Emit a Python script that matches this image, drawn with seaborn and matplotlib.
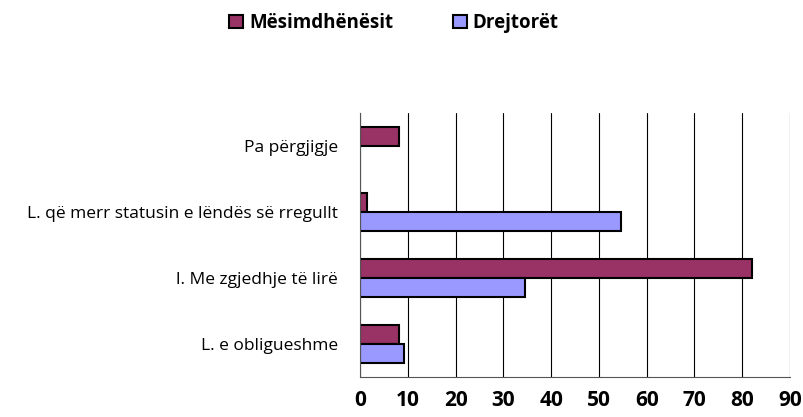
import numpy as np
import pandas as pd
import matplotlib.pyplot as plt
import seaborn as sns
from matplotlib.patches import Patch

# categories, top to bottom as shown
categories = ["Pa përgjigje",
              "L. që merr statusin e lëndës së rregullt",
              "l. Me zgjedhje të lirë",
              "L. e obligueshme"]
series = ["Mësimdhënësit", "Drejtorët"]
mesimdhenesit = [8.2, 1.4, 82.1, 8.2]
drejtoret = [None, 54.6, 34.6, 9.1]
colors = ["#993366", "#9999FF"]

df = pd.DataFrame({
    "cat": categories * 2,
    "group": [series[0]] * 4 + [series[1]] * 4,
    "value": mesimdhenesit + drejtoret,
}).dropna()

sns.set_style("white")
plt.rcParams["font.family"] = ["Open Sans", "DejaVu Sans"]
plt.rcParams["text.color"] = "black"
plt.rcParams["xtick.labelcolor"] = "black"
plt.rcParams["ytick.labelcolor"] = "black"

fig = plt.figure(figsize=(8.04, 4.17), dpi=100)
ax = fig.add_axes([0.4478, 0.0959, 0.5348, 0.633])

sns.barplot(data=df, y="cat", x="value", hue="group", order=categories,
            hue_order=series, palette=colors, saturation=1, orient="h",
            width=0.57, edgecolor="black", linewidth=1.5, ax=ax, legend=False)

ax.set_xlim(0, 90)
ax.set_ylim(3.5, -0.5)
ax.set_xticks(np.arange(0, 91, 10))
ax.set_xticklabels([str(v) for v in range(0, 91, 10)],
                   fontsize=15, fontweight="bold")
ax.grid(axis="x", color="black", linewidth=0.8)
ax.set_axisbelow(True)

ax.set_yticks(range(len(categories)))
ax.set_yticklabels(categories, fontsize=12.5)
ax.set_yticks([-0.5, 0.5, 1.5, 2.5, 3.5], minor=True)
ax.tick_params(axis="y", which="major", length=0, pad=16)
ax.tick_params(axis="y", which="minor", length=6, width=0.8, color="#555555",
               direction="out")
ax.tick_params(axis="x", length=6, width=0.8, color="#555555",
               direction="out", pad=3)

for side in ["top", "right"]:
    ax.spines[side].set_visible(False)
for side in ["left", "bottom"]:
    ax.spines[side].set_color("#555555")
    ax.spines[side].set_linewidth(0.8)

ax.set_xlabel("")
ax.set_ylabel("")

handles = [Patch(facecolor=c, edgecolor="black", linewidth=1.5) for c in colors]
fig.legend(handles, series, loc="center", bbox_to_anchor=(0.49, 0.945),
           ncol=2, frameon=False, prop={"weight": "bold", "size": 13.5},
           handlelength=0.75, handleheight=0.75, handletextpad=0.3,
           columnspacing=3.2)

fig.savefig("out.png", dpi=100)
